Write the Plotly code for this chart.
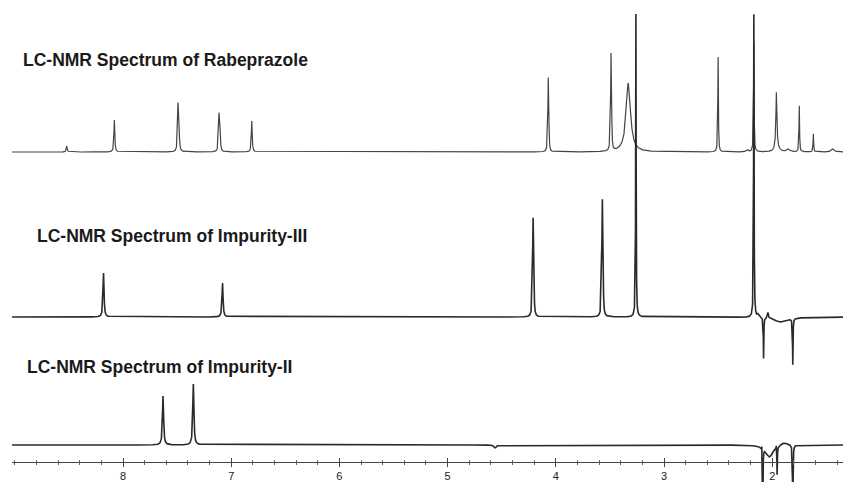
import numpy as np
import plotly.graph_objects as go

# ---------------- data (chemical shift in ppm, intensity, half-width in ppm) ----------------
rab_ppm = [8.52, 8.08, 7.492, 7.484, 7.113, 7.105, 6.81, 4.07, 4.076, 4.064, 3.49, 3.496, 3.484,
           3.33, 2.50, 2.23, 2.17, 1.962, 1.968, 1.956, 1.958, 1.85, 1.75, 1.62, 1.44]
rab_int = [6, 32, 42, 30, 33, 25, 31, 66, 21, 21, 87, 26, 26,
           69, 95, 2, 110, 44, 20, 20, 8, 3, 46, 18, 3]
rab_hw = [0.005, 0.0045, 0.0045, 0.0045, 0.0045, 0.0045, 0.0045, 0.003, 0.003, 0.003, 0.003, 0.003, 0.003,
          0.024, 0.003, 0.01, 0.003, 0.003, 0.003, 0.003, 0.02, 0.015, 0.003, 0.003, 0.015]

imp3_ppm = [8.18, 7.08, 4.21, 4.216, 4.204, 3.57, 3.576, 3.564, 3.26, 2.17, 2.13, 2.08, 2.04, 1.92, 1.81]
imp3_int = [44, 34, 81, 36, 36, 98, 39, 39, 303, 303, 3, -41, 6, -5, -46]
imp3_hw = [0.0055, 0.0055, 0.0035, 0.0035, 0.0035, 0.0035, 0.0035, 0.0035, 0.0025, 0.0025, 0.01, 0.0025,
           0.006, 0.08, 0.0025]

imp2_ppm = [7.63, 7.35, 4.56, 2.096, 2.088, 2.025, 1.962, 1.955, 1.89, 1.816, 1.81]
imp2_int = [49, 61, -3, 7, -70, -12, 5, -28, 3, 5, -90]
imp2_hw = [0.006, 0.006, 0.012, 0.0025, 0.0025, 0.04, 0.0025, 0.0025, 0.04, 0.0025, 0.0025]

spectra = [
    ("LC-NMR Spectrum of Rabeprazole", rab_ppm, rab_int, rab_hw),
    ("LC-NMR Spectrum of Impurity-III", imp3_ppm, imp3_int, imp3_hw),
    ("LC-NMR Spectrum of Impurity-II", imp2_ppm, imp2_int, imp2_hw),
]

tick_vals = [8, 7, 6, 5, 4, 3, 2]
tick_text = ["8", "7", "6", "5", "4", "3", "2"]

# ---------------- layout constants ----------------
W, H = 843, 482
X_LEFT, X_RIGHT = 9.026, 1.346
ML = 12
offsets = [330, 165, 37]          # baseline of each stacked spectrum (y units = px from bottom)
label_px = [(21, 60), (35, 236), (25, 367)]
line_styles = [dict(color="#444444", width=1.2), dict(color="#2a2a2a", width=1.6),
               dict(color="#2a2a2a", width=1.6)]

grid = np.arange(X_RIGHT, X_LEFT, 0.0005)


def build(ppm, inten, hw, base):
    x = np.union1d(grid, np.array(ppm))
    y = np.full_like(x, float(base))
    for c, a, w in zip(ppm, inten, hw):
        y += a / (1.0 + ((x - c) / w) ** 2)
    return x, y


fig = go.Figure()
for (name, p, a, w), base, st in zip(spectra, offsets, line_styles):
    x, y = build(p, a, w, base)
    fig.add_trace(go.Scatter(x=x, y=y, mode="lines", line=st, name=name,
                             hoverinfo="skip", showlegend=False))

# invisible trace for the crossing-tick overlay axis
fig.add_trace(go.Scatter(x=[X_LEFT, X_RIGHT], y=[0, 0], xaxis="x2", mode="lines",
                         line=dict(width=0), opacity=0, hoverinfo="skip", showlegend=False))

axis_pos = (H - 462) / H
fig.update_layout(
    width=W, height=H,
    margin=dict(l=ML, r=0, t=0, b=0),
    paper_bgcolor="white", plot_bgcolor="white",
    xaxis=dict(range=[X_LEFT, X_RIGHT], anchor="free", position=axis_pos,
               showgrid=False, zeroline=False, showline=True, linecolor="#444", linewidth=1,
               ticks="outside", ticklen=4, tickwidth=1, tickcolor="#444",
               tickvals=tick_vals, ticktext=tick_text,
               tickfont=dict(family="Liberation Sans", size=11, color="#222"),
               minor=dict(dtick=0.2, tick0=0, ticks="outside", ticklen=2, tickcolor="#666", showgrid=False)),
    xaxis2=dict(range=[X_LEFT, X_RIGHT], overlaying="x", anchor="free", position=axis_pos,
                showgrid=False, zeroline=False, showline=False, showticklabels=False,
                ticks="inside", ticklen=4, tickwidth=1, tickcolor="#444", tickvals=tick_vals,
                minor=dict(dtick=0.2, tick0=0, ticks="inside", ticklen=2, tickcolor="#666", showgrid=False)),
    yaxis=dict(range=[0, H], visible=False, fixedrange=True),
    showlegend=False,
)

for (name, _, _, _), (px, py) in zip(spectra, label_px):
    fig.add_annotation(text="<b>" + name + "</b>", xref="paper", yref="paper",
                       x=(px - ML) / (W - ML), y=(H - py) / H,
                       xanchor="left", yanchor="middle", showarrow=False,
                       font=dict(family="Liberation Sans", size=17.5, color="#1a1a1a"))

fig.write_html("out.html")
